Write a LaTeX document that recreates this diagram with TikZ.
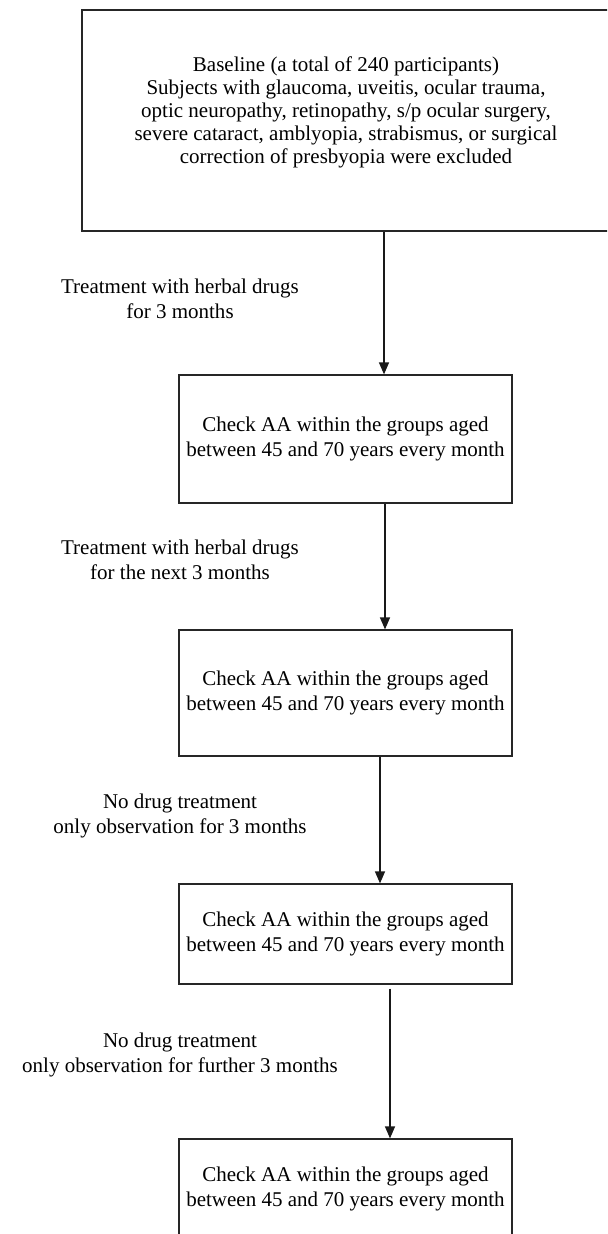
\documentclass[tikz,border=0pt]{standalone}
\usepackage{fontspec}
\setmainfont{Liberation Serif}
\usetikzlibrary{arrows.meta}

\begin{document}
\begin{tikzpicture}[x=0.5pt,y=-0.5pt,
	box/.style={draw=black!85, line width=0.6pt, align=center, inner sep=0pt,
		minimum width=166.5pt, font=\fontsize{10.5}{12.5}\selectfont},
	note/.style={align=center, inner sep=0pt, font=\fontsize{10.5}{12.5}\selectfont},
	flow/.style={draw=black!90, line width=0.65pt, -{Triangle[length=6pt,width=5pt]}}]
	\clip (0,0) rectangle (607,1234);
	\def\tx{180}
	% boxes
	\node[box, minimum width=264pt, minimum height=110.5pt, text depth=10.5pt,
		font=\fontsize{10.5}{11.5}\selectfont] (base) at (346,120.5)
		{Baseline (a total of 240 participants)\\
		Subjects with glaucoma, uveitis, ocular trauma,\\
		optic neuropathy, retinopathy, s/p ocular surgery,\\
		severe cataract, amblyopia, strabismus, or surgical\\
		correction of presbyopia were excluded};
	\node[box, minimum height=64pt] (chk1) at (345.5,439) {Check AA within the groups aged\\between 45 and 70 years every month};
	\node[box, minimum height=63pt] (chk2) at (345.5,693) {Check AA within the groups aged\\between 45 and 70 years every month};
	\node[box, minimum height=50pt] (chk3) at (345.5,934) {Check AA within the groups aged\\between 45 and 70 years every month};
	\node[box, minimum height=50pt] (chk4) at (345.5,1189) {Check AA within the groups aged\\between 45 and 70 years every month};
	% steps
	\node[note] (t1) at (\tx,298.5) {Treatment with herbal drugs\\for 3 months};
	\node[note] (t2) at (\tx,560) {Treatment with herbal drugs\\for the next 3 months};
	\node[note] (t3) at (\tx,815.5) {No drug treatment\\only observation for 3 months};
	\node[note] (t4) at (\tx,1055) {No drug treatment\\only observation for further 3 months};
	\draw[flow] ([xshift=19pt]base.south) -- ([xshift=19.25pt]chk1.north);
	\draw[flow] ([xshift=19.75pt]chk1.south) -- ([xshift=19.75pt]chk2.north);
	\draw[flow] ([xshift=17.25pt]chk2.south) -- ([xshift=17.25pt]chk3.north);
	\draw[flow, shorten <=2pt] ([xshift=22.25pt]chk3.south) -- ([xshift=22.25pt]chk4.north);
\end{tikzpicture}
\end{document}
